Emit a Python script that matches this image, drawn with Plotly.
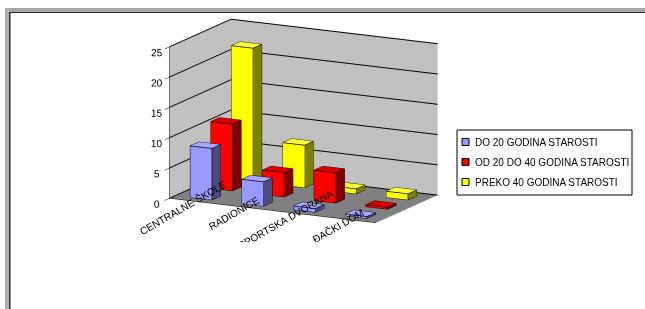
import plotly.graph_objects as go

categories = ["CENTRALNE ŠKOLE", "RADIONICE", "SPORTSKA DVORANA", "ĐAČKI DOM"]
series_names = ["DO 20 GODINA STAROSTI", "OD 20 DO 40 GODINA STAROSTI", "PREKO 40 GODINA STAROSTI"]
do20 = [8.5, 4, 0.6, 0.3]
od20do40 = [11, 4, 5, 0.3]
preko40 = [22, 7, 0.8, 1]
z_ticks = [0, 5, 10, 15, 20, 25]

series_values = [do20, od20do40, preko40]
front_colors = ["#9999FF", "#FF0000", "#FFFF00"]
side_colors = ["#4C4C80", "#800000", "#808000"]
top_colors = ["#A8A8FF", "#E00000", "#FFFF33"]

W = 0.42
D = 0.42

fig = go.Figure()

for s, vals in enumerate(series_values):
    X, Y, Z, I, J, K, FC = [], [], [], [], [], [], []
    ex, ey, ez = [], [], []
    for c, v in enumerate(vals):
        x0, x1 = c - W / 2, c + W / 2
        y0, y1 = s - D / 2, s + D / 2
        z0, z1 = 0, v
        b = len(X)
        pts = [(x0, y0, z0), (x1, y0, z0), (x1, y1, z0), (x0, y1, z0),
               (x0, y0, z1), (x1, y0, z1), (x1, y1, z1), (x0, y1, z1)]
        for p in pts:
            X.append(p[0]); Y.append(p[1]); Z.append(p[2])
        faces = [
            ((0, 1, 5), front_colors[s]), ((0, 5, 4), front_colors[s]),
            ((1, 2, 6), side_colors[s]), ((1, 6, 5), side_colors[s]),
            ((4, 5, 6), top_colors[s]), ((4, 6, 7), top_colors[s]),
            ((3, 2, 6), side_colors[s]), ((3, 6, 7), side_colors[s]),
            ((0, 3, 7), side_colors[s]), ((0, 7, 4), side_colors[s]),
            ((0, 1, 2), side_colors[s]), ((0, 2, 3), side_colors[s]),
        ]
        for (a, bb, cc), col in faces:
            I.append(b + a); J.append(b + bb); K.append(b + cc); FC.append(col)
        edges = [(0, 1), (1, 2), (2, 3), (3, 0), (4, 5), (5, 6), (6, 7), (7, 4),
                 (0, 4), (1, 5), (2, 6), (3, 7)]
        for e0, e1 in edges:
            ex += [pts[e0][0], pts[e1][0], None]
            ey += [pts[e0][1], pts[e1][1], None]
            ez += [pts[e0][2], pts[e1][2], None]
    fig.add_trace(go.Mesh3d(x=X, y=Y, z=Z, i=I, j=J, k=K, facecolor=FC,
                            flatshading=True, showlegend=False, hoverinfo="skip",
                            lighting=dict(ambient=1, diffuse=0, specular=0, roughness=1, fresnel=0)))
    fig.add_trace(go.Scatter3d(x=ex, y=ey, z=ez, mode="lines",
                               line=dict(color="black", width=1.5),
                               showlegend=False, hoverinfo="skip"))

axis_font = dict(family="Liberation Sans, Arial", size=11, color="black")
dist = 2.0
k = 1.92
fig.update_layout(
    width=645, height=309,
    margin=dict(l=0, r=0, t=0, b=0),
    paper_bgcolor="white",
    font=dict(family="Liberation Sans, Arial", color="black"),
    hovermode=False,
    showlegend=False,
    scene=dict(
        domain=dict(x=[0.1, 0.84], y=[0.216, 1.0]),
        xaxis=dict(range=[-0.5, 3.5], tickvals=[0, 1, 2, 3], ticktext=categories,
                   showgrid=False, showbackground=True, backgroundcolor="#C0C0C0",
                   showline=True, linecolor="black", zeroline=False, title=dict(text=""),
                   tickfont=axis_font, showspikes=False, ticks="outside", tickcolor="black",
                   tickangle=-30),
        yaxis=dict(range=[-0.5, 2.5], showticklabels=False, showgrid=False,
                   showbackground=True, backgroundcolor="#C0C0C0", zeroline=False,
                   showline=False, title=dict(text=""), showspikes=False, ticks=""),
        zaxis=dict(range=[0, 25], tickvals=z_ticks, showgrid=True, gridcolor="black",
                   showbackground=True, backgroundcolor="#808080", zeroline=False,
                   showline=True, linecolor="black", title=dict(text=""),
                   tickfont=axis_font, showspikes=False, ticks="outside", tickcolor="black",
                   tickangle=0),
        aspectmode="manual",
        aspectratio=dict(x=1.0 * k, y=0.58 * k, z=0.67 * k),
        camera=dict(eye=dict(x=0.443 * dist, y=-0.862 * dist, z=0.23 * dist),
                    center=dict(x=0, y=0, z=0),
                    up=dict(x=0, y=0, z=1), projection=dict(type="orthographic")),
    ),
    shapes=[
        dict(type="rect", xref="paper", yref="paper", x0=5 / 645, x1=1, y0=1 - 8 / 309, y1=1 - 12 / 309,
             fillcolor="#A8A8A8", line=dict(width=0), layer="above"),
        dict(type="rect", xref="paper", yref="paper", x0=5 / 645, x1=9 / 645, y0=0, y1=1 - 8 / 309,
             fillcolor="#B0B0B0", line=dict(width=0), layer="above"),
        dict(type="rect", xref="paper", yref="paper", x0=9 / 645, x1=1, y0=1 - 12 / 309, y1=1 - 13 / 309,
             fillcolor="#303030", line=dict(width=0), layer="above"),
        dict(type="rect", xref="paper", yref="paper", x0=9 / 645, x1=10.5 / 645, y0=0, y1=1 - 12 / 309,
             fillcolor="#303030", line=dict(width=0), layer="above"),
        dict(type="rect", xref="paper", yref="paper", x0=457 / 645, x1=632 / 645,
             y0=1 - 195 / 309, y1=1 - 130 / 309, fillcolor="white", line=dict(color="black", width=1)),
    ],
)

for s, name in enumerate(series_names):
    yc = 142 + 20 * s
    fig.add_shape(type="rect", xref="paper", yref="paper", x0=462 / 645, x1=469 / 645,
                  y0=1 - (yc + 3.5) / 309, y1=1 - (yc - 3.5) / 309,
                  fillcolor=front_colors[s], line=dict(color="black", width=1))
    fig.add_annotation(x=473 / 645, y=1 - yc / 309, xref="paper", yref="paper", text=name,
                       showarrow=False, xanchor="left", yanchor="middle",
                       font=dict(family="Liberation Sans, Arial", size=10, color="black"))

fig.write_html("out.html", post_script="document.body.style.margin='0px';",
               config={"displayModeBar": False})
